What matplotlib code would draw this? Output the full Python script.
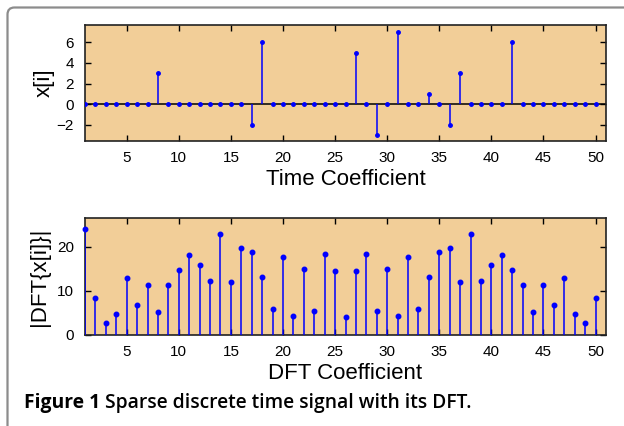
import matplotlib
matplotlib.use("Agg")
import matplotlib.pyplot as plt
from matplotlib.patches import PathPatch
from matplotlib.path import Path
from matplotlib.transforms import IdentityTransform
import numpy as np

# ---- data ----
n_idx = list(range(1, 51))
x_nonzero_pos = [8, 17, 18, 27, 29, 31, 34, 36, 37, 42]
x_nonzero_val = [3, -2, 6, 5, -3, 7, 1, -2, 3, 6]
x_signal = [0.0] * 50
for p, v in zip(x_nonzero_pos, x_nonzero_val):
    x_signal[p - 1] = v

dft_mag = [24.0, 8.3, 2.8, 4.7, 12.8, 6.9, 11.4, 5.2, 11.4, 14.8,
           18.2, 15.8, 12.3, 22.8, 11.9, 19.8, 18.9, 13.1, 5.8, 17.6,
           4.3, 15.0, 5.4, 18.3, 14.5, 4.1, 14.5, 18.3, 5.4, 15.0,
           4.3, 17.6, 5.8, 13.1, 18.9, 19.8, 11.9, 22.8, 12.3, 15.8,
           18.2, 14.8, 11.4, 5.2, 11.4, 6.9, 12.8, 4.7, 2.8, 8.3]

xticks = [5, 10, 15, 20, 25, 30, 35, 40, 45, 50]
top_yticks = [-2, 0, 2, 4, 6]
bot_yticks = [0, 10, 20]

W, H = 624, 426
DPI = 100
plt.rcParams['font.family'] = ['Liberation Sans', 'DejaVu Sans']

fig = plt.figure(figsize=(W / DPI, H / DPI), dpi=DPI)
fig.patch.set_facecolor('white')

# frame border: left edge + rounded top-left corner + top edge (open on right/bottom)
x0, ytop, r = 7.5, H - 7.5, 7.0
verts = [(x0, -20), (x0, ytop - r), (x0, ytop), (x0 + r, ytop), (W + 20, ytop)]
codes = [Path.MOVETO, Path.LINETO, Path.CURVE3, Path.CURVE3, Path.LINETO]
frame = PathPatch(Path(verts, codes), transform=IdentityTransform(),
                  facecolor='none', edgecolor='#8c8c8c', linewidth=1.6)
fig.add_artist(frame)

face = '#F2CE98'
blue = '#0000FF'


def ax_rect(l, t, r, b):
    return [l / W, 1 - b / H, (r - l) / W, (b - t) / H]


def style(ax):
    ax.set_facecolor(face)
    for s in ax.spines.values():
        s.set_color('#222222')
        s.set_linewidth(1.2)
    ax.tick_params(direction='in', length=4, width=1, top=True, right=True,
                   labelsize=11, colors='black')
    ax.tick_params(axis='x', pad=7)
    ax.tick_params(axis='y', pad=8)
    ax.set_xlim(1, 51)
    ax.set_xticks(xticks)


ax1 = fig.add_axes(ax_rect(85, 25, 606, 141))
style(ax1)
ax1.axhline(0, color='black', lw=1.1, zorder=2)
ax1.vlines(n_idx, 0, x_signal, color=blue, lw=1.1, zorder=3)
ax1.plot(n_idx, x_signal, '.', color=blue, ms=5, zorder=4)
ax1.set_ylim(-3.6, 7.7)
ax1.set_yticks(top_yticks)
ax1.set_xlabel('Time Coefficient', fontsize=16, labelpad=3)
ax1.set_ylabel('x[i]', fontsize=16, labelpad=1)

ax2 = fig.add_axes(ax_rect(85, 218, 606, 335))
style(ax2)
ax2.vlines(n_idx, 0, dft_mag, color=blue, lw=1.1, zorder=3)
ax2.plot(n_idx, dft_mag, '.', color=blue, ms=6.5, zorder=4, clip_on=False)
ax2.set_ylim(0, 26.5)
ax2.set_yticks(bot_yticks)
ax2.set_xlabel('DFT Coefficient', fontsize=16, labelpad=3)
ax2.set_ylabel('|DFT{x[i]}|', fontsize=16, labelpad=5)

# caption
cap_y = 1 - 403 / H
t1 = fig.text(24 / W, cap_y, 'Figure 1', fontsize=13.9, fontweight='bold',
              family=['Open Sans', 'DejaVu Sans'], va='center', ha='left')
fig.canvas.draw()
bb = t1.get_window_extent()
fig.text((bb.x1 + 5) / W, cap_y, 'Sparse discrete time signal with its DFT.',
         fontsize=13.9, fontweight='semibold', family=['Open Sans', 'DejaVu Sans'],
         va='center', ha='left')

fig.savefig('out.png', dpi=DPI)
